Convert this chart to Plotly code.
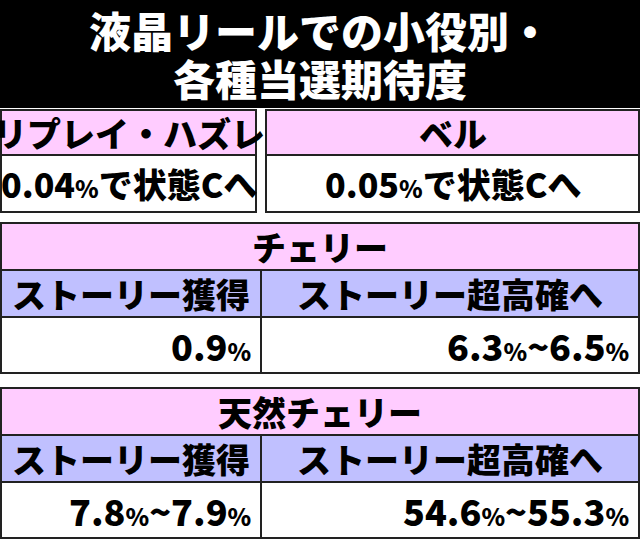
import plotly.graph_objects as go

title_lines = ["液晶リールでの小役別・", "各種当選期待度"]
top_roles = ["リプレイ・ハズレ", "ベル"]
top_values = ["0.04", "0.05"]
top_suffix = "で状態Cへ"
sections = ["チェリー", "天然チェリー"]
sub_headers = ["ストーリー獲得", "ストーリー超高確へ"]
sec_values = [[("0.9",), ("6.3", "6.5")], [("7.8", "7.9"), ("54.6", "55.3")]]

PINK = "#ffccff"; LAV = "#c0c0ff"; EDGE = "#222222"
FONT = "Noto Sans CJK JP"
W, H = 640, 539

fig = go.Figure()
shapes, ann = [], []

def X(v): return v / W
def Y(v): return 1 - v / H

def rect(x0, y0, x1, y1, fill, lw=2):
    shapes.append(dict(type="rect", xref="paper", yref="paper", x0=X(x0), y0=Y(y1), x1=X(x1), y1=Y(y0),
                       fillcolor=fill, line=dict(color=EDGE, width=lw), layer="below"))

def text(x, y, t, size, color="black", xanchor="center"):
    ann.append(dict(xref="paper", yref="paper", x=X(x), y=Y(y), text=t, showarrow=False,
                    xanchor=xanchor, yanchor="middle",
                    font=dict(family=FONT, size=size, color=color, weight=900)))

def pct(v, s=24):
    return f"{v}<span style='font-size:{s}px'>%</span>"

shapes.append(dict(type="rect", xref="paper", yref="paper", x0=0, y0=Y(108), x1=1, y1=1,
                   fillcolor="black", line=dict(width=0), layer="below"))
text(320, 30, title_lines[0], 42, "white")
text(320, 78, title_lines[1], 42, "white")

boxes = [(1, 256), (266, 639)]
for i, (x0, x1) in enumerate(boxes):
    rect(x0, 110, x1, 155, PINK)
    rect(x0, 155, x1, 212, "white")
    text((x0 + x1) / 2, 132, top_roles[i], 34)
    text((x0 + x1) / 2, 184, pct(top_values[i], 24) + top_suffix, 34)

tops = [223, 388]
split = 261
for s, top in enumerate(tops):
    h1, h2, h3 = top + 47, top + 94, min(top + 150, 538)
    rect(1, top, 639, h1, PINK)
    text(320, (top + h1) / 2, sections[s], 34)
    for c, (x0, x1) in enumerate([(1, split), (split, 639)]):
        rect(x0, h1, x1, h2, LAV)
        rect(x0, h2, x1, h3, "white")
        text((x0 + x1) / 2, (h1 + h2) / 2, sub_headers[c], 34)
        vals = sec_values[s][c]
        t = pct(vals[0]) if len(vals) == 1 else pct(vals[0]) + "~" + pct(vals[1])
        text(x1 - 8, (h2 + h3) / 2, t, 36, xanchor="right")

fig.update_layout(width=W, height=H, margin=dict(l=0, r=0, t=0, b=0),
                  paper_bgcolor="white", plot_bgcolor="white",
                  xaxis=dict(visible=False), yaxis=dict(visible=False),
                  shapes=shapes, annotations=ann, showlegend=False)
fig.write_html("out.html", config={"displayModeBar": False},
               post_script="document.body.style.margin='0';document.body.style.overflow='hidden';")
